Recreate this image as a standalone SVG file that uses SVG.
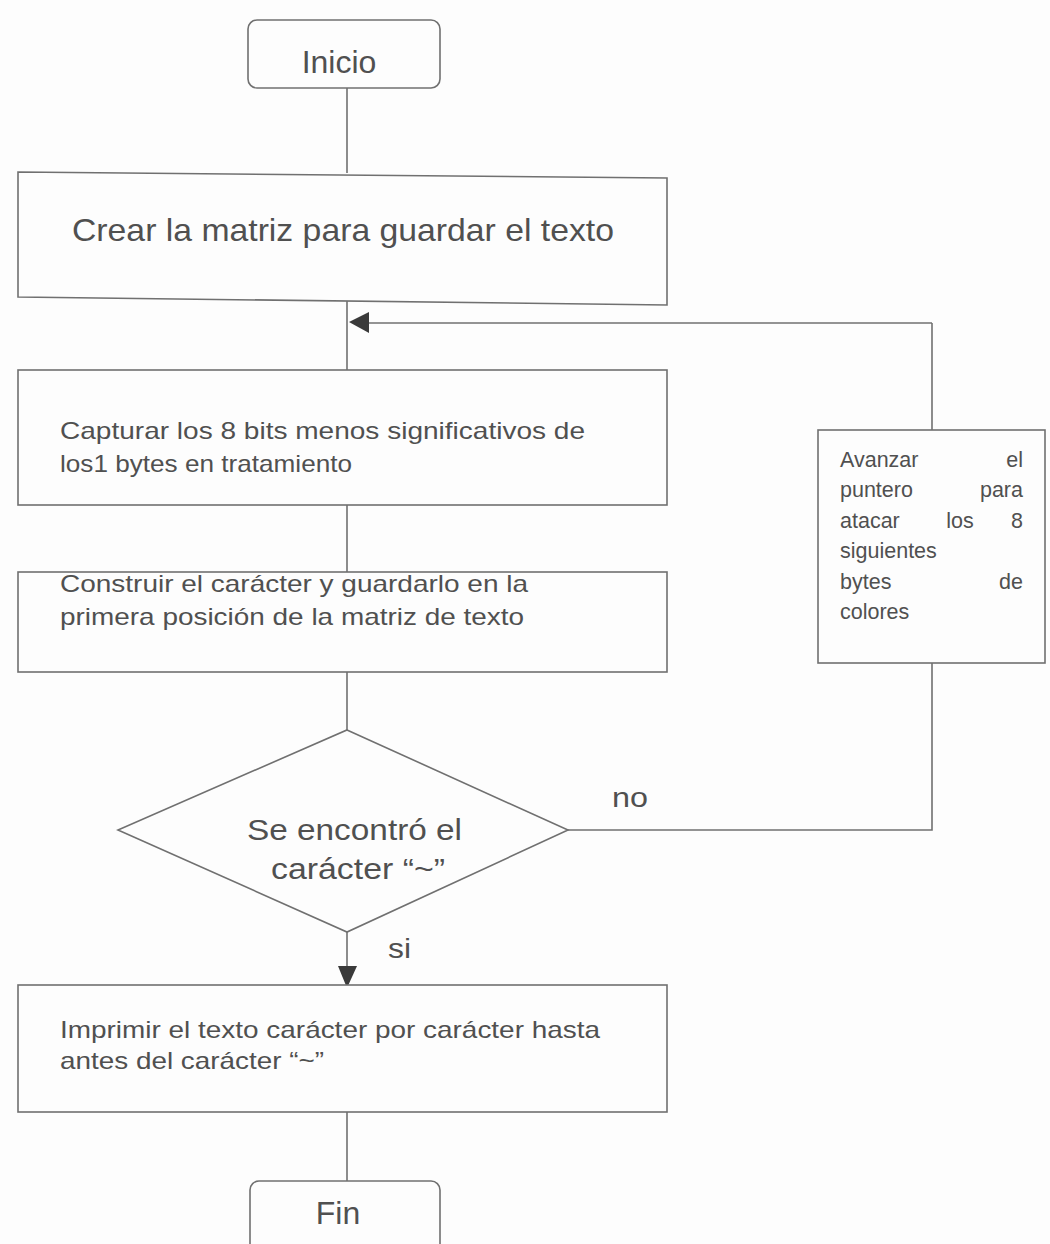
<svg xmlns="http://www.w3.org/2000/svg" width="1050" height="1244" viewBox="0 0 1050 1244">
<style>
.box{fill:#fdfdfd;stroke:#707070;stroke-width:1.6}
.ln{fill:none;stroke:#707070;stroke-width:1.6}
.ah{fill:#3a3a3a}
text{font-family:"Liberation Sans",Arial,sans-serif;fill:#505050}
.body{font-size:24px}
.side{font-size:21.5px}
.big{font-size:32px}
.mid{font-size:30px}
.lbl{font-size:28px}
</style>
<rect width="1050" height="1244" fill="#fdfdfd"/>
<g id="connectors">
<line class="ln" x1="347" y1="88" x2="347" y2="173"/>
<line class="ln" x1="347" y1="299" x2="347" y2="370"/>
<line class="ln" x1="932" y1="323" x2="366" y2="323"/>
<polygon class="ah" points="349,322 369,312 369,333"/>
<line class="ln" x1="932" y1="323" x2="932" y2="430"/>
<line class="ln" x1="347" y1="505" x2="347" y2="572"/>
<line class="ln" x1="347" y1="672" x2="347" y2="730"/>
<polyline class="ln" points="568,830 932,830 932,663"/>
<line class="ln" x1="347" y1="932" x2="347" y2="970"/>
<polygon class="ah" points="338,966 357,966 347,988"/>
<line class="ln" x1="347" y1="1112" x2="347" y2="1181"/>
<text class="lbl" x="612" y="807" textLength="36" lengthAdjust="spacingAndGlyphs">no</text>
<text class="lbl" x="388" y="958" textLength="23" lengthAdjust="spacingAndGlyphs">si</text>
</g>
<g id="inicio">
<rect class="box" x="248" y="20" width="192" height="68" rx="9"/>
<text class="big" x="339" y="73" text-anchor="middle">Inicio</text>
</g>
<g id="crear">
<polygon class="box" points="18,172 667,178 667,305 18,297"/>
<text class="big" x="72" y="241" textLength="542" lengthAdjust="spacingAndGlyphs">Crear la matriz para guardar el texto</text>
</g>
<g id="capturar">
<rect class="box" x="18" y="370" width="649" height="135"/>
<text class="body" x="60" y="439" textLength="525" lengthAdjust="spacingAndGlyphs">Capturar los 8 bits menos significativos de</text>
<text class="body" x="60" y="472" textLength="292" lengthAdjust="spacingAndGlyphs">los1 bytes en tratamiento</text>
</g>
<g id="construir">
<rect class="box" x="18" y="572" width="649" height="100"/>
<text class="body" x="60" y="592" textLength="468" lengthAdjust="spacingAndGlyphs">Construir el carácter y guardarlo en la</text>
<text class="body" x="60" y="625" textLength="464" lengthAdjust="spacingAndGlyphs">primera posición de la matriz de texto</text>
</g>
<g id="avanzar">
<rect class="box" x="818" y="430" width="227" height="233"/>
<text class="side" x="840" y="467">Avanzar</text><text class="side" x="1023" y="467" text-anchor="end">el</text>
<text class="side" x="840" y="497">puntero</text><text class="side" x="1023" y="497" text-anchor="end">para</text>
<text class="side" x="840" y="528">atacar</text><text class="side" x="960" y="528" text-anchor="middle">los</text><text class="side" x="1023" y="528" text-anchor="end">8</text>
<text class="side" x="840" y="558">siguientes</text>
<text class="side" x="840" y="589">bytes</text><text class="side" x="1023" y="589" text-anchor="end">de</text>
<text class="side" x="840" y="619">colores</text>
</g>
<g id="decision">
<polygon class="box" points="347,730 568,830 347,932 118,830"/>
<text class="mid" x="247" y="840" textLength="215" lengthAdjust="spacingAndGlyphs">Se encontró el</text>
<text class="mid" x="271" y="879" textLength="174" lengthAdjust="spacingAndGlyphs">carácter “~”</text>
</g>
<g id="imprimir">
<rect class="box" x="18" y="985" width="649" height="127"/>
<text class="body" x="60" y="1038" textLength="540" lengthAdjust="spacingAndGlyphs">Imprimir el texto carácter por carácter hasta</text>
<text class="body" x="60" y="1069" textLength="264" lengthAdjust="spacingAndGlyphs">antes del carácter “~”</text>
</g>
<g id="fin">
<rect class="box" x="250" y="1181" width="190" height="80" rx="9"/>
<text class="big" x="338" y="1224" text-anchor="middle">Fin</text>
</g>
</svg>
